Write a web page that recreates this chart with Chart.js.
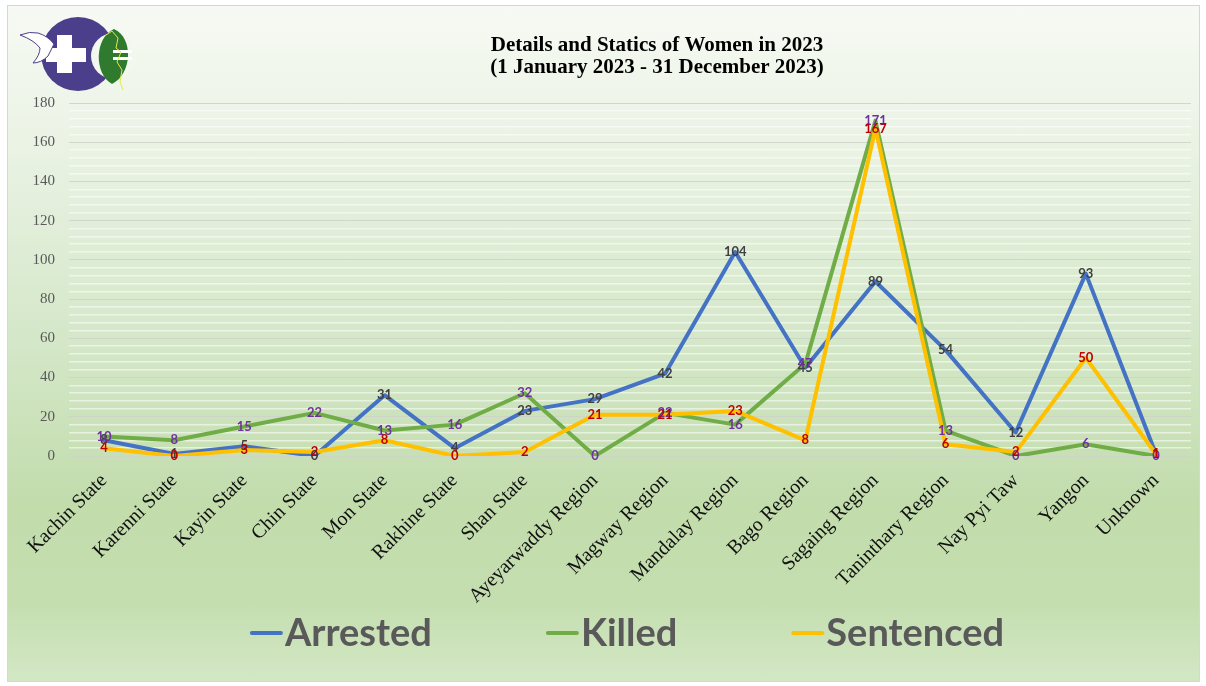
<!DOCTYPE html>
<html>
<head>
<meta charset="utf-8">
<script src="https://cdn.jsdelivr.net/npm/chart.js@4.4.0/dist/chart.umd.min.js"></script>
<style>
  html, body { margin: 0; padding: 0; background: #fff; }
  #frame {
    position: absolute; left: 7px; top: 5px; width: 1191px; height: 675px;
    border: 1px solid #d6d6d6;
    background: linear-gradient(to bottom, #f7faf4 0%, #e9f2e3 22%, #d4e7c8 50%, #c2dcac 74%, #c4deaf 88%, #d3e7c5 100%);
  }
  #wrap { position: absolute; left: 0; top: 0; width: 1206px; height: 686px; }
  #logo { position: absolute; left: 0; top: 0; }
</style>
</head>
<body>
<div id="frame"></div>
<svg id="logo" width="140" height="100" viewBox="0 0 140 100">
  <circle cx="78" cy="54" r="37" fill="#4b3f8c"/>
  <circle cx="114" cy="56" r="23" fill="#f3f8ef"/>
  <path d="M114 29 C94 38 94 74 112 84 C132 74 134 38 114 29Z" fill="#2f7a2e"/>
  <rect x="57" y="35" width="15" height="38" fill="#fff"/>
  <rect x="46" y="48" width="40" height="14" fill="#fff"/>
  <path d="M20 35 Q30 31 38 33 Q48 36 54 44 L48 56 Q41 63 33 63 Q40 55 40 48 Q34 40 20 35Z" fill="#fff" stroke="#4b3f8c" stroke-width="1"/>
  <rect x="113" y="50" width="19" height="3" fill="#fff"/>
  <rect x="113" y="57" width="19" height="3" fill="#fff"/>
  <path d="M106 35 L112 31 L118 38 L116 48 L121 52 L117 62 L122 70 L120 82 L123 90" fill="none" stroke="#e8e84a" stroke-width="1"/>
</svg>
<div id="wrap"><canvas id="chart" width="1206" height="686"></canvas></div>
<script>
const categories = ['Kachin State', 'Karenni State', 'Kayin State', 'Chin State', 'Mon State',
  'Rakhine State', 'Shan State', 'Ayeyarwaddy Region', 'Magway Region', 'Mandalay Region',
  'Bago Region', 'Sagaing Region', 'Taninthary Region', 'Nay Pyi Taw', 'Yangon', 'Unknown'];
const arrested  = [8, 1, 5, 0, 31, 4, 23, 29, 42, 104, 45, 89, 54, 12, 93, 1];
const killed    = [10, 8, 15, 22, 13, 16, 32, 0, 22, 16, 47, 171, 13, 0, 6, 0];
const sentenced = [4, 0, 3, 2, 8, 0, 2, 21, 21, 23, 8, 167, 6, 2, 50, 1];
const seriesNames = ['Arrested', 'Killed', 'Sentenced'];
const yTicks = [0, 20, 40, 60, 80, 100, 120, 140, 160, 180];
const titleLines = ['Details and Statics of Women in 2023', '(1 January 2023 - 31 December 2023)'];

const lineColors = ['#4472c4', '#70ad47', '#ffc000'];
const labelColors = ['#404040', '#7030a0', '#c00000'];

// data labels, title and legend drawn on top of the chart
const overlay = {
  id: 'overlay',
  afterDatasetsDraw(chart) {
    const ctx = chart.ctx;
    ctx.save();
    ctx.font = 'bold 13px Lato';
    ctx.textAlign = 'center';
    ctx.textBaseline = 'middle';
    chart.data.datasets.forEach((ds, i) => {
      const meta = chart.getDatasetMeta(i);
      ctx.fillStyle = labelColors[i];
      meta.data.forEach((pt, j) => ctx.fillText(ds.data[j], pt.x, pt.y));
    });
    ctx.restore();
  },
  afterDraw(chart) {
    const ctx = chart.ctx;
    const area = chart.chartArea;
    ctx.save();
    // title
    ctx.fillStyle = '#000';
    ctx.font = 'bold 21px "Liberation Serif"';
    ctx.textAlign = 'center';
    ctx.textBaseline = 'middle';
    ctx.fillText(titleLines[0], 657, 46);
    ctx.fillText(titleLines[1], 657, 68);
    // legend
    ctx.font = 'bold 38px Lato';
    ctx.textAlign = 'left';
    const markW = 33, gapText = 2, gapItem = 114;
    const widths = chart.data.datasets.map(ds => markW + gapText + ctx.measureText(ds.label).width);
    const total = widths.reduce((a, b) => a + b, 0) + gapItem * (widths.length - 1);
    let x = (area.left + area.right) / 2 - total / 2 - 3;
    const y = 633;
    chart.data.datasets.forEach((ds, i) => {
      ctx.strokeStyle = ds.borderColor;
      ctx.lineWidth = 4;
      ctx.lineCap = 'round';
      ctx.beginPath();
      ctx.moveTo(x + 2, y);
      ctx.lineTo(x + markW - 2, y);
      ctx.stroke();
      ctx.fillStyle = '#595959';
      ctx.fillText(ds.label, x + markW + gapText, y + 1);
      x += widths[i] + gapItem;
    });
    ctx.restore();
  }
};

const makeSet = (i, values, order) => ({
  label: seriesNames[i],
  data: values,
  borderColor: lineColors[i],
  backgroundColor: lineColors[i],
  borderWidth: 4,
  pointRadius: 0,
  tension: 0,
  fill: false,
  borderJoinStyle: 'round',
  borderCapStyle: 'round',
  order: order
});

new Chart(document.getElementById('chart').getContext('2d'), {
  type: 'line',
  data: {
    labels: categories,
    datasets: [makeSet(0, arrested, 3), makeSet(1, killed, 2), makeSet(2, sentenced, 1)]
  },
  options: {
    responsive: false,
    animation: false,
    layout: { padding: { top: 103, left: 7, right: 15, bottom: 70 } },
    plugins: {
      legend: { display: false },
      title: { display: false },
      tooltip: { enabled: false }
    },
    scales: {
      x: {
        offset: true,
        grid: { display: false },
        border: { display: false },
        ticks: {
          autoSkip: false,
          minRotation: 45,
          maxRotation: 45,
          padding: 5,
          color: '#111',
          font: { family: '"Liberation Serif"', size: 20 }
        },
        afterFit(scale) { scale.height = 160; }
      },
      y: {
        min: 0,
        max: 180,
        border: { display: false },
        grid: {
          drawTicks: false,
          lineWidth: ctx => yTicks.includes(ctx.tick.value) ? 1 : 1.5,
          color: ctx => yTicks.includes(ctx.tick.value) ? 'rgba(205,212,200,0.9)' : 'rgba(255,255,255,0.55)'
        },
        ticks: {
          stepSize: 4,
          autoSkip: false,
          padding: 14,
          color: '#595959',
          font: { family: '"Liberation Serif"', size: 15 },
          callback: v => yTicks.includes(v) ? v : ''
        },
        afterFit(scale) { scale.width = 62; }
      }
    }
  },
  plugins: [overlay]
});
</script>
</body>
</html>
